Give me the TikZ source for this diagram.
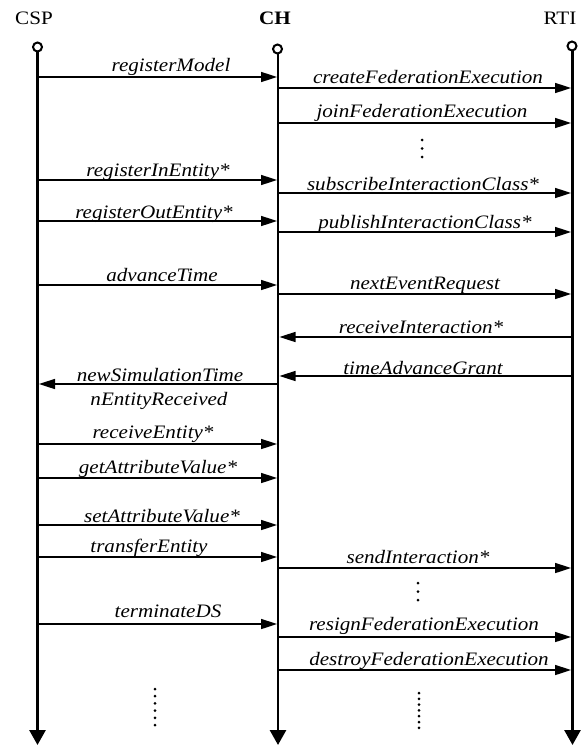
\documentclass[tikz,border=0pt]{standalone}
\usepackage{fontspec}
\setmainfont{Liberation Serif}
\usetikzlibrary{arrows.meta}
\newcommand{\hs}[1]{\scalebox{1.11}[1]{#1}}
\tikzset{
  life/.style={line width=2.8bp, -{Triangle[width=16bp,length=15bp]}},
  msg/.style={line width=1.6bp, -{Triangle[width=10bp,length=16bp]}},
  lbl/.style={anchor=base, inner sep=0pt, font=\fontsize{19bp}{21bp}\selectfont\itshape},
  hdr/.style={anchor=base, inner sep=0pt, font=\fontsize{19bp}{21bp}\selectfont},
  topc/.style={circle, draw, line width=2bp, minimum size=9bp, inner sep=0pt, fill=white},
  dotc/.style={circle, fill, inner sep=0pt, minimum size=3bp},
}
\begin{document}
\begin{tikzpicture}[x=1bp,y=-1bp]
\useasboundingbox (0,0) rectangle (581,746);
% headers
\node[hdr] (hcsp) at (34,25) {\hs{CSP}};
\node[hdr] (hch) at (275,25) {\hs{\bfseries CH}};
\node[hdr] (hrti) at (560,25) {\hs{RTI}};
% lifelines
\coordinate (cspB) at (37.5,745);
\coordinate (chB) at (278,745);
\coordinate (rtiB) at (572.5,745);
\draw[life] (37.5,51) -- (cspB);
\draw[life] (278,53) -- (chB);
\draw[life] (572.5,50) -- (rtiB);
\node[topc] (cspT) at (37.5,47) {};
\node[topc] (chT) at (277.5,49) {};
\node[topc] (rtiT) at (572,46) {};
% messages
\coordinate (a1) at (37.5,77);  \coordinate (b1) at (277,77);
\draw[msg] (a1) -- (b1);
\node[lbl] (l1) at (171,72) {\hs{registerModel}};
\coordinate (a2) at (278,88);  \coordinate (b2) at (571,88);
\draw[msg] (a2) -- (b2);
\node[lbl] (l2) at (428,83) {\hs{createFederationExecution}};
\coordinate (a3) at (278,123);  \coordinate (b3) at (571,123);
\draw[msg] (a3) -- (b3);
\node[lbl] (l3) at (422,117) {\hs{joinFederationExecution}};
\coordinate (a4) at (37.5,180);  \coordinate (b4) at (277,180);
\draw[msg] (a4) -- (b4);
\node[lbl] (l4) at (158,176) {\hs{registerInEntity*}};
\coordinate (a5) at (278,193);  \coordinate (b5) at (571,193);
\draw[msg] (a5) -- (b5);
\node[lbl] (l5) at (423,190) {\hs{subscribeInteractionClass*}};
\coordinate (a6) at (37.5,221);  \coordinate (b6) at (277,221);
\draw[msg] (a6) -- (b6);
\node[lbl] (l6) at (154,218) {\hs{registerOutEntity*}};
\coordinate (a7) at (278,232);  \coordinate (b7) at (571,232);
\draw[msg] (a7) -- (b7);
\node[lbl] (l7) at (425,228) {\hs{publishInteractionClass*}};
\coordinate (a8) at (37.5,285);  \coordinate (b8) at (277,285);
\draw[msg] (a8) -- (b8);
\node[lbl] (l8) at (162,281) {\hs{advanceTime}};
\coordinate (a9) at (278,294);  \coordinate (b9) at (571,294);
\draw[msg] (a9) -- (b9);
\node[lbl] (l9) at (425,289) {\hs{nextEventRequest}};
\coordinate (a10) at (572.5,337);  \coordinate (b10) at (279.5,337);
\draw[msg] (a10) -- (b10);
\node[lbl] (l10) at (421,333) {\hs{receiveInteraction*}};
\coordinate (a11) at (572.5,376);  \coordinate (b11) at (279.5,376);
\draw[msg] (a11) -- (b11);
\node[lbl] (l11) at (423,374) {\hs{timeAdvanceGrant}};
\coordinate (a12) at (278,384);  \coordinate (b12) at (39,384);
\draw[msg] (a12) -- (b12);
\node[lbl] (l12) at (160,381) {\hs{newSimulationTime}};
\node[lbl] (l12b) at (159,405) {\hs{nEntityReceived}};
\coordinate (a13) at (37.5,444);  \coordinate (b13) at (277,444);
\draw[msg] (a13) -- (b13);
\node[lbl] (l13) at (153,438) {\hs{receiveEntity*}};
\coordinate (a14) at (37.5,478);  \coordinate (b14) at (277,478);
\draw[msg] (a14) -- (b14);
\node[lbl] (l14) at (158,473) {\hs{getAttributeValue*}};
\coordinate (a15) at (37.5,525);  \coordinate (b15) at (277,525);
\draw[msg] (a15) -- (b15);
\node[lbl] (l15) at (162,522) {\hs{setAttributeValue*}};
\coordinate (a16) at (37.5,557);  \coordinate (b16) at (277,557);
\draw[msg] (a16) -- (b16);
\node[lbl] (l16) at (149,552) {\hs{transferEntity}};
\coordinate (a17) at (278,568);  \coordinate (b17) at (571,568);
\draw[msg] (a17) -- (b17);
\node[lbl] (l17) at (418,563) {\hs{sendInteraction*}};
\coordinate (a18) at (37.5,624);  \coordinate (b18) at (277,624);
\draw[msg] (a18) -- (b18);
\node[lbl] (l18) at (168,617) {\hs{terminateDS}};
\coordinate (a19) at (278,637);  \coordinate (b19) at (571,637);
\draw[msg] (a19) -- (b19);
\node[lbl] (l19) at (424,630) {\hs{resignFederationExecution}};
\coordinate (a20) at (278,670);  \coordinate (b20) at (571,670);
\draw[msg] (a20) -- (b20);
\node[lbl] (l20) at (429,665) {\hs{destroyFederationExecution}};
% dots
\foreach \yy in {140,148.5,157} \node[dotc] at (422,\yy) {};
\foreach \yy in {583,591.5,600} \node[dotc] at (418,\yy) {};
\foreach \yy in {689,696.2,703.4,710.6,717.8,725} \node[dotc] at (155,\yy) {};
\foreach \yy in {693,698.8,704.6,710.4,716.2,722,727.8} \node[dotc] at (419,\yy) {};
\end{tikzpicture}
\end{document}
